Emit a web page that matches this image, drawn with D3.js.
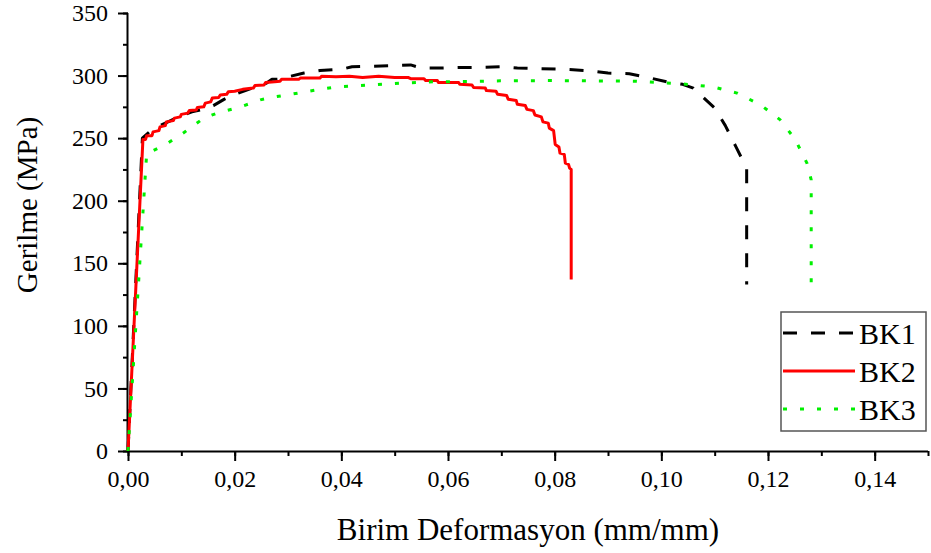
<!DOCTYPE html>
<html><head><meta charset="utf-8">
<script src="https://cdn.jsdelivr.net/npm/d3@7"></script>
<style>body{margin:0;background:#fff}svg{display:block}text{font-family:"Liberation Serif","Times New Roman",serif;fill:#000}</style>
</head><body>
<svg id="c" width="931" height="553"></svg>
<script>
const xTicks = [0,0.02,0.04,0.06,0.08,0.10,0.12,0.14];
const yTicks = [0,50,100,150,200,250,300,350];
const seriesNames = ["BK1","BK2","BK3"];
const xTitle = "Birim Deformasyon (mm/mm)";
const yTitle = "Gerilme (MPa)";

const bk1 = [[0,0],[0.0027,250],[0.004,255],[0.006,260],[0.008,264],[0.010,268],[0.012,271],[0.014,273],[0.016,276],[0.018,281],[0.020,285],[0.022,288],[0.024,291],[0.026,294],[0.027,297],[0.028,297],[0.030,299],[0.033,302],[0.036,304],[0.040,305],[0.042,307],[0.046,307.5],[0.050,308],[0.053,308.5],[0.055,306],[0.058,306],[0.062,306.5],[0.066,306.5],[0.070,307],[0.073,306],[0.077,305.5],[0.082,305],[0.086,304],[0.090,302],[0.094,301.5],[0.098,298],[0.101,295],[0.104,293],[0.106,290],[0.108,282],[0.110,274],[0.112,260],[0.114,243],[0.116,226],[0.116,133]];

const bk2 = [[0,0],[0.0028,249],[0.0033,249],[0.0035,252],[0.0045,252],[0.0047,255],[0.0058,256],[0.006,259],[0.007,260],[0.0072,263],[0.0085,264],[0.0087,266],[0.0098,267],[0.010,269],[0.0112,270],[0.0115,272],[0.0128,272.5],[0.013,274.5],[0.0142,275],[0.0145,278],[0.0155,279],[0.0158,282],[0.017,282.5],[0.0173,284.5],[0.0185,285],[0.0188,287],[0.020,287.5],[0.0215,289],[0.0235,290],[0.0238,292],[0.0255,292.5],[0.0258,294.5],[0.0275,295],[0.0285,295.5],[0.0288,297],[0.032,297],[0.0323,298],[0.036,298],[0.0363,299.5],[0.039,299],[0.0415,299.5],[0.044,298.5],[0.047,299.5],[0.050,298.5],[0.0525,298.5],[0.053,297.5],[0.0555,297.5],[0.0558,296],[0.058,296],[0.0582,294.5],[0.062,294.5],[0.0622,293],[0.0645,292.5],[0.0648,290.5],[0.067,290],[0.0672,288],[0.069,287.5],[0.0693,285],[0.071,284],[0.0713,281],[0.0728,280],[0.073,277],[0.0745,276],[0.0748,273],[0.076,272],[0.0763,268.5],[0.0775,267],[0.0778,263],[0.0788,262],[0.079,258],[0.0798,256],[0.0801,245],[0.0808,243],[0.081,238],[0.0818,237],[0.082,230],[0.0826,229],[0.0828,226],[0.0831,225],[0.0831,137]];

const bk3 = [[0,0],[0.0035,238],[0.0042,239],[0.0073,245.5],[0.0105,254.5],[0.0142,266],[0.0167,270],[0.0211,275],[0.0248,280.6],[0.0273,282.8],[0.0305,285],[0.0355,288.6],[0.0392,291],[0.0436,292],[0.0511,294],[0.0573,295],[0.0636,295.3],[0.0698,295.8],[0.080,296],[0.0873,295.8],[0.095,295.5],[0.1036,293.5],[0.1097,291],[0.1142,286],[0.1186,276.6],[0.1223,264.6],[0.1251,249],[0.1273,230],[0.1281,216.7],[0.1281,133]];

const svg = d3.select("#c");
const L=128, R=928, T=13, B=451;
const x = d3.scaleLinear().domain([0,0.15]).range([L,R]);
const y = d3.scaleLinear().domain([0,350]).range([B,T]);

const fmtX = d => d3.format(".2f")(d).replace(".",",");

const xMinor = d3.range(0,0.1501,0.01);
const yMinor = d3.range(0,351,25);
const gx = svg.append("g").attr("transform",`translate(0,${B})`);
gx.call(d3.axisBottom(x).tickValues(xMinor).tickSize(5).tickFormat("")).call(g=>g.select(".domain").remove());
gx.append("g").call(d3.axisBottom(x).tickValues(xTicks).tickSize(10).tickPadding(9).tickFormat(fmtX));
const gy = svg.append("g").attr("transform",`translate(${L},0)`);
gy.call(d3.axisLeft(y).tickValues(yMinor).tickSize(5).tickFormat("")).call(g=>g.select(".domain").remove());
gy.append("g").call(d3.axisLeft(y).tickValues(yTicks).tickSize(10).tickPadding(10));
svg.selectAll(".tick line").attr("stroke","#000").attr("stroke-width",2);
svg.selectAll(".domain").attr("stroke","#000").attr("stroke-width",2);
svg.selectAll(".tick text").style("font-size","24px").style("font-family",'"Liberation Serif",serif');
gx.selectAll(".domain").attr("d",`M${L},0.5H${R}`);
gy.selectAll(".domain").attr("d",`M-0.5,${B}V${T}`);

const line = d3.line().x(d=>x(d[0])).y(d=>y(d[1]));
const styles = [
 {data:bk1,color:"#000",dash:"14,14",w:3},
 {data:bk2,color:"#ff0000",dash:null,w:3},
 {data:bk3,color:"#00f000",dash:"4,13",w:3}
];
styles.forEach(s=>{
  svg.append("path").datum(s.data).attr("d",line).attr("fill","none")
   .attr("stroke",s.color).attr("stroke-width",s.w).attr("stroke-dasharray",s.dash)
   .attr("stroke-linejoin","round");
});

svg.append("text").attr("x",(L+R)/2).attr("y",540).attr("text-anchor","middle").style("font-size","31px").text(xTitle);
svg.append("text").attr("transform",`translate(37,205) rotate(-90)`).attr("text-anchor","middle").style("font-size","29px").text(yTitle);

const lg = svg.append("g");
lg.append("rect").attr("x",781).attr("y",312).attr("width",145).attr("height",119).attr("fill","#fff").attr("stroke","#555").attr("stroke-width",1.5);
styles.forEach((s,i)=>{
  const cy = 333 + i*38;
  lg.append("line").attr("x1",783).attr("x2",855).attr("y1",cy).attr("y2",cy)
    .attr("stroke",s.color).attr("stroke-width",3).attr("stroke-dasharray",s.dash);
  lg.append("text").attr("x",859).attr("y",cy+11).style("font-size","30px").text(seriesNames[i]);
});
</script>
</body></html>
